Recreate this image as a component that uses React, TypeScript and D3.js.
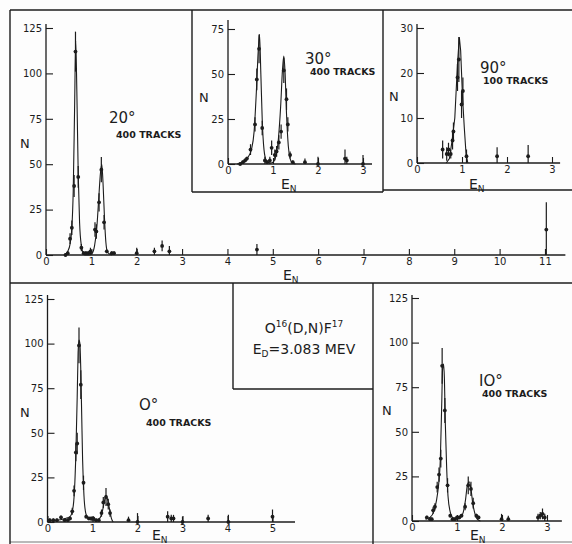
import React, { useEffect, useRef } from 'react';
import * as d3 from 'd3';

// 20 degrees, 400 tracks
const e20 = [0.43, 0.48, 0.53, 0.57, 0.62, 0.65, 0.71, 0.78, 0.83, 0.88, 0.93, 0.98, 1.08, 1.11, 1.17, 1.22, 1.28, 1.34, 1.45, 1.5, 2.0, 2.39, 2.56, 2.72, 4.65, 11.03];
const n20 = [0, 1, 9, 15, 38, 112, 43, 4, 1, 1, 1, 2, 14, 13, 29, 47, 18, 2, 1, 1, 1, 2, 5, 2, 3, 14];
const err20 = [1, 1, 3, 4, 6, 11, 6, 2, 1, 1, 1, 2, 4, 4, 5, 7, 4, 1, 1, 1, 3, 2, 3, 3, 3, 15];
const fitE20 = [0.42, 0.48, 0.53, 0.57, 0.6, 0.63, 0.655, 0.68, 0.71, 0.74, 0.78, 0.82, 0.86, 0.95, 1.02, 1.07, 1.12, 1.16, 1.2, 1.23, 1.26, 1.29, 1.32, 1.35, 1.4, 1.45];
const fitN20 = [0, 2, 6, 15, 35, 80, 118, 90, 45, 18, 5, 1, 0, 0, 1, 5, 15, 30, 45, 50, 38, 20, 7, 2, 0.5, 0];

// 30 degrees, 400 tracks
const e30 = [0.27, 0.33, 0.38, 0.42, 0.5, 0.6, 0.64, 0.69, 0.76, 0.82, 0.87, 0.93, 0.97, 1.04, 1.08, 1.13, 1.18, 1.24, 1.3, 1.33, 1.38, 1.44, 1.71, 2.0, 2.6, 2.64, 3.0];
const n30 = [0, 1, 2, 3, 8, 22, 47, 64, 20, 2, 1, 2, 9, 5, 7, 12, 18, 52, 36, 22, 5, 1, 1, 0, 3, 2, 0];
const err30 = [1, 1, 1, 1, 3, 4, 6, 8, 4, 2, 1, 2, 4, 3, 3, 4, 4, 7, 6, 4, 2, 1, 2, 4, 5, 2, 5];
const fitE30 = [0.2, 0.35, 0.45, 0.52, 0.58, 0.63, 0.67, 0.7, 0.73, 0.76, 0.8, 0.85, 0.92, 1.0, 1.07, 1.12, 1.17, 1.21, 1.24, 1.27, 1.3, 1.34, 1.38, 1.43, 1.5];
const fitN30 = [0, 1, 4, 8, 18, 40, 62, 72, 50, 25, 8, 2, 0.5, 1, 5, 14, 32, 52, 60, 50, 28, 10, 3, 0.5, 0];

// 90 degrees, 100 tracks
const e90 = [0.57, 0.66, 0.7, 0.75, 0.79, 0.81, 0.9, 0.93, 0.99, 1.02, 1.1, 1.78, 2.47];
const n90 = [3, 2, 3, 2, 5, 7, 19, 23, 13, 16, 1.5, 1.5, 1.5];
const err90 = [2, 1.5, 1.5, 1, 2, 2, 3, 5, 3, 3, 1.5, 2, 2.5];
const fitE90 = [0.65, 0.72, 0.78, 0.84, 0.9, 0.94, 0.97, 1.01, 1.05, 1.09, 1.13];
const fitN90 = [0, 1, 5, 10, 22, 28, 25, 15, 8, 2, 0];

// 0 degrees, 400 tracks
const e0 = [0.05, 0.13, 0.21, 0.3, 0.38, 0.45, 0.5, 0.55, 0.59, 0.63, 0.66, 0.7, 0.74, 0.8, 0.86, 0.92, 0.97, 1.02, 1.08, 1.14, 1.2, 1.24, 1.3, 1.35, 1.39, 1.8, 2.0, 2.67, 2.75, 2.8, 3.0, 3.57, 4.02, 5.0];
const n0 = [1, 1, 1, 2.6, 1, 1, 2, 6, 17.5, 39, 44, 99, 77, 22, 3, 2, 2, 2, 1, 1, 5, 11, 14, 10, 5, 1, 0, 3, 2, 2, 0, 2, 0, 3];
const err0 = [1, 1, 1, 1, 1, 1, 1, 2, 3, 5, 6, 10, 8, 4, 1, 1, 1, 1, 1, 1, 2, 3, 5, 3, 2, 2, 5, 3, 2, 2, 3, 2, 4, 4];
const fitE0 = [0.0, 0.2, 0.4, 0.5, 0.56, 0.6, 0.63, 0.66, 0.68, 0.7, 0.72, 0.74, 0.76, 0.78, 0.81, 0.85, 0.9, 1.0, 1.1, 1.16, 1.21, 1.26, 1.3, 1.34, 1.38, 1.42, 1.46];
const fitN0 = [1, 1, 2, 3, 7, 18, 38, 70, 95, 102, 100, 85, 60, 35, 15, 5, 2, 1, 1, 2, 5, 11, 15, 12, 7, 2, 0];

// 10 degrees, 400 tracks
const e10 = [0.33, 0.4, 0.44, 0.47, 0.51, 0.56, 0.6, 0.64, 0.67, 0.73, 0.79, 0.85, 0.9, 0.95, 1.0, 1.05, 1.1, 1.18, 1.25, 1.31, 1.36, 1.43, 1.48, 1.99, 2.14, 2.8, 2.85, 2.9, 2.95];
const n10 = [2, 1, 1, 6, 8, 19, 26, 35, 87, 62, 20, 3, 1, 1, 2, 2, 3, 8, 20, 18, 10, 3, 2, 1, 1, 2, 3, 4, 2];
const err10 = [1, 1, 1, 2, 2, 3, 4, 5, 10, 7, 4, 1, 1, 1, 1, 1, 1, 2, 5, 4, 3, 1, 1, 3, 2, 2, 2, 3, 2];
const fitE10 = [0.3, 0.4, 0.48, 0.54, 0.59, 0.63, 0.66, 0.68, 0.7, 0.72, 0.74, 0.77, 0.8, 0.85, 0.9, 1.0, 1.08, 1.14, 1.19, 1.23, 1.27, 1.31, 1.35, 1.4, 1.45, 1.52];
const fitN10 = [1, 2, 5, 11, 20, 35, 65, 85, 88, 80, 55, 30, 14, 5, 2, 1, 2, 5, 12, 20, 22, 18, 10, 4, 1, 0];

const ticks125 = [0, 25, 50, 75, 100, 125];
const ticks75 = [0, 25, 50, 75];
const ticks30 = [0, 10, 20, 30];
const eTicks11 = [0, 1, 2, 3, 4, 5, 6, 7, 8, 9, 10, 11];
const eTicks5 = [0, 1, 2, 3, 4, 5];
const eTicks3 = [0, 1, 2, 3];

const INK = '#1c1c1c';
const FONT = '"DejaVu Sans", sans-serif';

const panels = [
  { e: e20, n: n20, err: err20, fe: fitE20, fn: fitN20, x0: 46, unit: 45.36, xEnd: 11.45, y0: 255, yTopPx: 28, yMax: 125, axisTop: 24, yTicks: ticks125, xTicks: eTicks11, linear: false,
    angle: '20°', tracks: '400 TRACKS', ax: 109, ay: 123, tx: 116, ty: 138, nx: 20, ny: 148, enx: 283, eny: 280 },
  { e: e30, n: n30, err: err30, fe: fitE30, fn: fitN30, x0: 228, unit: 45, xEnd: 3.2, y0: 164, yTopPx: 29, yMax: 75, axisTop: 20, yTicks: ticks75, xTicks: eTicks3, linear: false,
    angle: '30°', tracks: '400 TRACKS', ax: 305, ay: 64, tx: 310, ty: 75, nx: 199, ny: 102, enx: 281, eny: 189 },
  { e: e90, n: n90, err: err90, fe: fitE90, fn: fitN90, x0: 417, unit: 45, xEnd: 3.18, y0: 163, yTopPx: 28, yMax: 30, axisTop: 24, yTicks: ticks30, xTicks: eTicks3, linear: true,
    angle: '90°', tracks: '100 TRACKS', ax: 480, ay: 73, tx: 483, ty: 84, nx: 389, ny: 101, enx: 469, eny: 189 },
  { e: e0, n: n0, err: err0, fe: fitE0, fn: fitN0, x0: 47.5, unit: 45, xEnd: 5.5, y0: 522, yTopPx: 299, yMax: 125, axisTop: 295, yTicks: ticks125, xTicks: eTicks5, linear: false,
    angle: 'O°', tracks: '400  TRACKS', ax: 139, ay: 410, tx: 146, ty: 426, nx: 20, ny: 417, enx: 152, eny: 540 },
  { e: e10, n: n10, err: err10, fe: fitE10, fn: fitN10, x0: 412, unit: 45, xEnd: 3.33, y0: 521, yTopPx: 298, yMax: 125, axisTop: 295, yTicks: ticks125, xTicks: eTicks3, linear: false,
    angle: 'IO°', tracks: '400 TRACKS', ax: 479, ay: 386, tx: 482, ty: 397, nx: 382, ny: 415, enx: 470, eny: 540 },
];

const App = () => {
  const svgRef = useRef<SVGSVGElement>(null);

  useEffect(() => {
    const svg = d3.select(svgRef.current);
    svg.selectAll('*').remove();

    svg.append('rect').attr('width', 572).attr('height', 544).attr('fill', '#fdfdfd');

    // frame and box lines
    const frame = [
      [10, 10, 572, 10], [10, 10, 10, 544],
      [192, 10, 192, 192], [192, 192, 383, 192], [383, 10, 383, 192], [383, 190, 572, 190],
      [10, 283, 572, 283],
      [233, 283, 233, 389], [233, 389, 373, 389], [373, 283, 373, 544],
      [10, 542, 572, 542],
    ];
    svg.append('g').selectAll('line').data(frame).enter().append('line')
      .attr('x1', d => d[0]).attr('y1', d => d[1]).attr('x2', d => d[2]).attr('y2', d => d[3])
      .attr('stroke', INK).attr('stroke-width', (d, i) => i === frame.length - 1 ? 0.6 : 1.4);

    panels.forEach(p => {
      const x = d3.scaleLinear().domain([0, 1]).range([p.x0, p.x0 + p.unit]);
      const y = d3.scaleLinear().domain([0, p.yMax]).range([p.y0, p.yTopPx]);
      const g = svg.append('g');

      // axis lines
      g.append('line').attr('x1', p.x0).attr('x2', x(p.xEnd)).attr('y1', p.y0).attr('y2', p.y0)
        .attr('stroke', INK).attr('stroke-width', 1.3);
      g.append('line').attr('x1', p.x0).attr('x2', p.x0).attr('y1', p.y0).attr('y2', p.axisTop)
        .attr('stroke', INK).attr('stroke-width', 1.3);

      const xa = g.append('g').attr('transform', `translate(0,${p.y0})`)
        .call(d3.axisBottom(x).tickValues(p.xTicks).tickSize(-6).tickSizeOuter(0).tickPadding(3).tickFormat(d3.format('d')));
      xa.select('.domain').remove();
      const ya = g.append('g').attr('transform', `translate(${p.x0},0)`)
        .call(d3.axisLeft(y).tickValues(p.yTicks).tickSize(-7).tickSizeOuter(0).tickPadding(4).tickFormat(d3.format('d')));
      ya.select('.domain').remove();
      [xa, ya].forEach(a => {
        a.attr('font-family', FONT).attr('font-size', 10);
        a.selectAll('line').attr('stroke', INK).attr('stroke-width', 1.1);
        a.selectAll('text').attr('fill', INK);
      });

      // fitted curve
      const pts = p.fe.map((v, i) => [v, p.fn[i]] as [number, number]);
      const line = d3.line<[number, number]>()
        .x(d => x(d[0])).y(d => y(d[1]))
        .curve(p.linear ? d3.curveLinear : d3.curveMonotoneX);
      g.append('path').datum(pts).attr('d', line).attr('fill', 'none')
        .attr('stroke', INK).attr('stroke-width', 1.1);

      // data points with error bars
      const data = p.e.map((v, i) => ({ e: v, n: p.n[i], s: p.err[i] }));
      g.selectAll('.err').data(data).enter().append('line')
        .attr('x1', d => x(d.e)).attr('x2', d => x(d.e))
        .attr('y1', d => y(Math.max(0, d.n - d.s))).attr('y2', d => y(d.n + d.s))
        .attr('stroke', INK).attr('stroke-width', 1.2);
      g.selectAll('.pt').data(data).enter().append('circle')
        .attr('cx', d => x(d.e)).attr('cy', d => y(d.n)).attr('r', 1.9)
        .attr('fill', INK);

      // labels
      g.append('text').attr('x', p.ax).attr('y', p.ay).attr('font-family', FONT)
        .attr('font-size', 15).attr('fill', INK).text(p.angle);
      g.append('text').attr('x', p.tx).attr('y', p.ty).attr('font-family', FONT)
        .attr('font-size', 9.5).attr('font-weight', 'bold').attr('fill', INK).text(p.tracks);
      g.append('text').attr('x', p.nx).attr('y', p.ny).attr('font-family', FONT)
        .attr('font-size', 13).attr('fill', INK).text('N');
      const en = g.append('text').attr('x', p.enx).attr('y', p.eny).attr('font-family', FONT)
        .attr('font-size', 14).attr('fill', INK).text('E');
      en.append('tspan').attr('font-size', 9).attr('dy', 3).text('N');
    });

    // reaction box
    const t1 = svg.append('text').attr('x', 304).attr('y', 333).attr('text-anchor', 'middle')
      .attr('font-family', FONT).attr('font-size', 14).attr('fill', INK).text('O');
    t1.append('tspan').attr('font-size', 9).attr('dy', -6).text('16');
    t1.append('tspan').attr('dy', 6).text('(D,N)F');
    t1.append('tspan').attr('font-size', 9).attr('dy', -6).text('17');
    const t2 = svg.append('text').attr('x', 304).attr('y', 354).attr('text-anchor', 'middle')
      .attr('font-family', FONT).attr('font-size', 14).attr('fill', INK).text('E');
    t2.append('tspan').attr('font-size', 9).attr('dy', 3).text('D');
    t2.append('tspan').attr('dy', -3).text('=3.083 MEV');
  }, []);

  return (
    <svg ref={svgRef} width={572} height={544}
      style={{ position: 'absolute', left: 0, top: 0, background: '#fdfdfd' }} />
  );
};

export default App;
